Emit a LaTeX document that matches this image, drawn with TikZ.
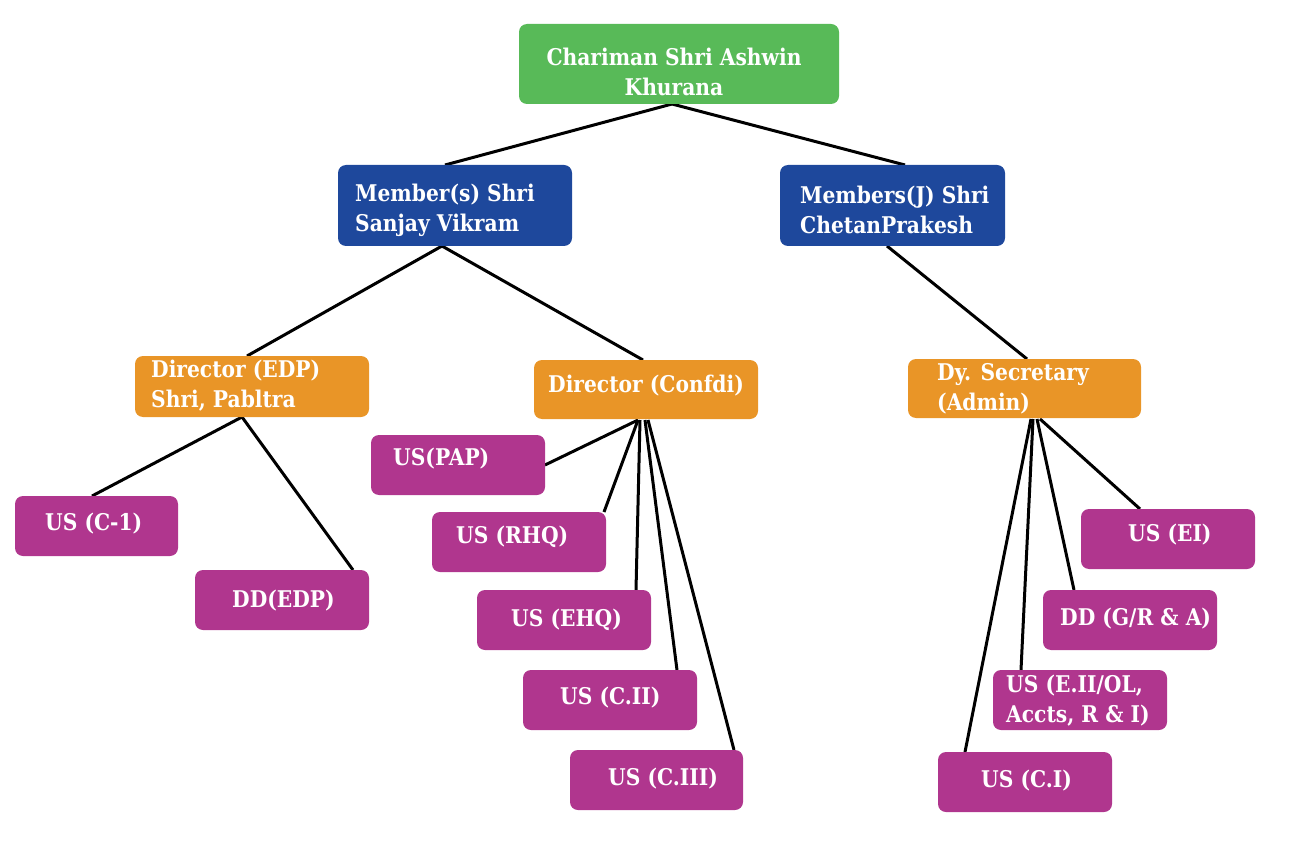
\documentclass[tikz,border=0pt]{standalone}
\usepackage{fontspec}
\setmainfont{DejaVu Serif}[FakeStretch=0.88]
\usetikzlibrary{backgrounds}
\definecolor{cgreen}{HTML}{58BA58}
\definecolor{cblue}{HTML}{1E489C}
\definecolor{corange}{HTML}{E99527}
\definecolor{cmag}{HTML}{B0368E}
\begin{document}
\begin{tikzpicture}[x=1pt,y=1pt,
  box/.style={rounded corners=8pt, inner sep=0pt, outer sep=0pt, anchor=north west, draw=none},
  gbox/.style={box, fill=cgreen},
  bbox/.style={box, fill=cblue},
  obox/.style={box, fill=corange},
  mbox/.style={box, fill=cmag},
  txt/.style={text=white, font=\fontsize{23}{30}\selectfont\bfseries, align=left, anchor=west, inner sep=0pt, yshift=-2pt},
  conn/.style={line width=3pt, black}]
\useasboundingbox (0,0) rectangle (1295,-850);
% boxes
\node[gbox, minimum width=320, minimum height=80] (chair) at (519,-24) {};
\node[bbox, minimum width=234, minimum height=81] (ms) at (338,-165) {};
\node[bbox, minimum width=225, minimum height=81] (mj) at (780,-165) {};
\node[obox, minimum width=234, minimum height=61] (dedp) at (135,-356) {};
\node[obox, minimum width=224, minimum height=59] (dconf) at (534,-360) {};
\node[obox, minimum width=233, minimum height=59] (dysec) at (908,-359) {};
\node[mbox, minimum width=163, minimum height=60] (c1) at (15,-496) {};
\node[mbox, minimum width=174, minimum height=60] (ddedp) at (195,-570) {};
\node[mbox, minimum width=174, minimum height=60] (pap) at (371,-435) {};
\node[mbox, minimum width=174, minimum height=60] (rhq) at (432,-512) {};
\node[mbox, minimum width=174, minimum height=60] (ehq) at (477,-590) {};
\node[mbox, minimum width=174, minimum height=60] (cii) at (523,-670) {};
\node[mbox, minimum width=173, minimum height=60] (ciii) at (570,-750) {};
\node[mbox, minimum width=174, minimum height=60] (ei) at (1081,-509) {};
\node[mbox, minimum width=174, minimum height=60] (ddgr) at (1043,-590) {};
\node[mbox, minimum width=174, minimum height=60] (eii) at (993,-670) {};
\node[mbox, minimum width=174, minimum height=60] (ci) at (938,-752) {};
% texts
\node[txt, anchor=center, align=center] (chairt) at (674,-70) {Chariman Shri Ashwin\\Khurana};
\node[txt] (mst) at (355,-208) {Member(s) Shri\\Sanjay Vikram};
\node[txt] (mjt) at (800,-208) {Members(J) Shri\\ChetanPrakesh};
\node[txt] (dedpt) at (151,-384) {Director (EDP)\\Shri, Pabltra};
\node[txt] (dconft) at (548,-384) {Director (Confdi)};
\node[txt] (dysect) at (937,-387) {Dy. Secretary\\(Admin)};
\node[txt] (c1t) at (45,-522) {US (C-1)};
\node[txt] (ddedpt) at (232,-599) {DD(EDP)};
\node[txt] (papt) at (393,-457) {US(PAP)};
\node[txt] (rhqt) at (456,-535) {US (RHQ)};
\node[txt] (ehqt) at (511,-618) {US (EHQ)};
\node[txt] (ciit) at (560,-696) {US (C.II)};
\node[txt] (ciiit) at (608,-777) {US (C.III)};
\node[txt] (eit) at (1128,-533) {US (EI)};
\node[txt] (ddgrt) at (1060,-617) {DD (G/R \& A)};
\node[txt] (eiit) at (1006,-699) {US (E.II/OL,\\Accts, R \& I)};
\node[txt] (cit) at (981,-779) {US (C.I)};
% connectors
\begin{pgfonlayer}{background}
\draw[conn] ([xshift=-7pt]chair.south) -- ([xshift=-10pt]ms.north);
\draw[conn] ([xshift=-7pt]chair.south) -- ([xshift=12.5pt]mj.north);
\draw[conn] ([xshift=-13pt]ms.south) -- ([xshift=-5pt]dedp.north);
\draw[conn] ([xshift=-13pt]ms.south) -- ([xshift=-3pt]dconf.north);
\draw[conn] ([xshift=-5.5pt]mj.south) -- ([xshift=2.5pt]dysec.north);
\draw[conn] ([xshift=-10pt]dedp.south) -- ([xshift=-4.5pt]c1.north);
\draw[conn] ([xshift=-10pt]dedp.south) -- ([xshift=71pt]ddedp.north);
\draw[conn] ([xshift=-8pt,yshift=-1pt]dconf.south) -- (pap.east);
\draw[conn] ([xshift=-8pt,yshift=-1pt]dconf.south) -- ([xshift=-2pt]rhq.north east);
\draw[conn] ([xshift=-6pt,yshift=-1pt]dconf.south) -- ([xshift=-15pt]ehq.north east);
\draw[conn] ([xshift=-1pt,yshift=-1pt]dconf.south) -- ([xshift=-20pt]cii.north east);
\draw[conn] ([xshift=2pt,yshift=-1pt]dconf.south) -- ([xshift=-9pt]ciii.north east);
\draw[conn] ([xshift=6.5pt,yshift=-1pt]dysec.south) -- ([xshift=27pt]ci.north west);
\draw[conn] ([xshift=8.5pt,yshift=-1pt]dysec.south) -- ([xshift=28pt]eii.north west);
\draw[conn] ([xshift=12.5pt,yshift=-1pt]dysec.south) -- ([xshift=31pt]ddgr.north west);
\draw[conn] ([xshift=15.5pt,yshift=-1pt]dysec.south) -- ([xshift=59pt]ei.north west);
\end{pgfonlayer}
\end{tikzpicture}
\end{document}
